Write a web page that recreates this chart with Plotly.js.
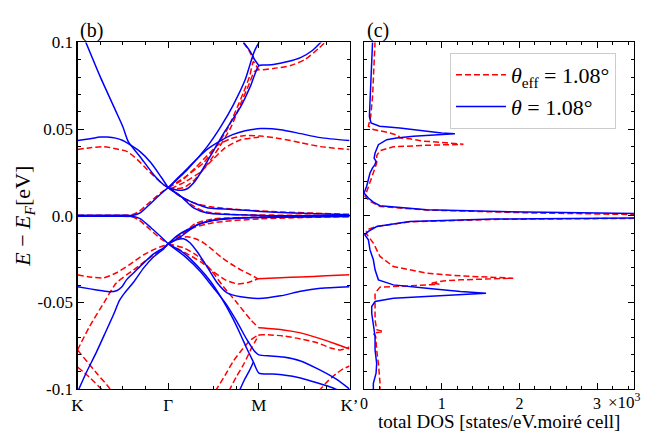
<!DOCTYPE html>
<html><head><meta charset="utf-8">
<script src="https://cdn.plot.ly/plotly-3.0.1.min.js"></script>
<style>html,body{margin:0;padding:0;background:#fff}#plot{width:648px;height:432px}</style>
</head><body><div id="plot"></div>
<script>
// ---- tick labels ----
const kTickVals = [0, 1, 2, 3];
const kTickText = ['K', 'Γ', 'M', 'K’'];
const eTickVals = [-0.1, -0.05, 0, 0.05, 0.1];
const eTickText = ['-0.1', '-0.05', '0.0', '0.05', '0.1'];
const dosTickVals = [0, 1, 2, 3];
const dosTickText = ['0', '1', '2', '3'];
const seriesNames = ['<i>θ</i><sub>eff</sub> = 1.08°', '<i>θ</i> = 1.08°'];

// ---- panel (b): blue (θ) bands, k along K-Γ-M-K' (0..3), E in eV ----
const bB1_k = [0.07,0.25,0.42,0.50,0.56,0.69,0.84,0.95,1.0];
const bB1_E = [0.1029,0.0803,0.0607,0.0514,0.0428,0.0341,0.0237,0.0179,0.0162];
const bB2_k = [0,0.14,0.25,0.33,0.42,0.50,0.56,0.69,0.81,0.92,1.0];
const bB2_E = [0.0434,0.0445,0.0454,0.0454,0.0448,0.0434,0.0416,0.0370,0.0306,0.0225,0.0162];
const bB3_k = [1.0,1.21,1.43,1.58,1.72,1.85,1.93,1.96,2.0,2.02];
const bB3_E = [0.0162,0.0266,0.0399,0.0514,0.0642,0.0786,0.0919,0.0960,0.1,0.1029];
const bB4_k = [1.0,1.08,1.15,1.21,1.30,1.39,1.50,1.63,1.80,1.91,2.0,2.07,2.16,2.32,2.46,2.59,2.68,2.71];
const bB4_E = [0.0162,0.0150,0.0147,0.0156,0.0202,0.0277,0.0376,0.0491,0.0630,0.0751,0.0867,0.0870,0.0873,0.0890,0.0913,0.0954,0.1,0.1017];
const bB5_k = [1.0,1.11,1.22,1.33,1.44,1.58,1.71,1.85,2.02,2.24,2.46,2.68,3.0];
const bB5_E = [0.0162,0.0220,0.0277,0.0335,0.0387,0.0434,0.0468,0.0491,0.0503,0.0497,0.0474,0.0451,0.0434];
const bB6_k = [1.83,1.89,1.93,1.96,2.0];
const bB6_E = [0.1,0.0960,0.0925,0.0896,0.0867];
const bF1_k = [0,0.47,0.62,0.69,0.81,0.92,1.0];
const bF1_E = [0.0003,0.0003,0.0003,0.0016,0.0073,0.0127,0.0162];
const bF2_k = [0,0.47,0.62,0.69,0.81,0.92,1.0];
const bF2_E = [-0.0003,-0.0003,-0.0004,-0.0017,-0.0069,-0.0121,-0.0162];
const bF3_k = [1.0,1.11,1.21,1.32,1.43,1.76,2.02,2.46,3.0];
const bF3_E = [0.0162,0.0121,0.0092,0.0066,0.0046,0.0035,0.0025,0.0014,0.0006];
const bF4_k = [1.0,1.14,1.28,1.43,2.02,3.0];
const bF4_E = [0.0162,0.0112,0.0045,0.0016,0.0002,0.0];
const bF5_k = [1.0,1.10,1.21,1.43,2.02,3.0];
const bF5_E = [-0.0162,-0.0115,-0.0081,-0.0033,-0.0008,-0.0002];
const bF6_k = [1.0,1.14,1.32,1.58,2.02,3.0];
const bF6_E = [-0.0162,-0.0120,-0.0052,-0.0019,-0.0010,-0.0004];
const bL1_k = [0.01,0.10,0.21,0.31,0.40,0.46,0.52,0.62,0.73,0.84,0.95,1.0];
const bL1_E = [-0.1006,-0.0902,-0.0786,-0.0671,-0.0567,-0.0491,-0.0445,-0.0382,-0.0301,-0.0237,-0.0191,-0.0162];
const bL2_k = [0,0.14,0.25,0.36,0.43,0.49,0.54,0.62,0.73,0.84,0.95,1.0];
const bL2_E = [-0.0410,-0.0422,-0.0431,-0.0439,-0.0433,-0.0410,-0.0370,-0.0329,-0.0272,-0.0220,-0.0185,-0.0162];
const bL3_k = [1.0,1.09,1.17,1.24,1.32,1.43,1.54,1.65,1.80,2.00,2.24,2.46,2.68,3.0];
const bL3_E = [-0.0162,-0.0139,-0.0133,-0.0156,-0.0208,-0.0295,-0.0387,-0.0445,-0.0468,-0.0477,-0.0462,-0.0436,-0.0419,-0.0410];
const bL4_k = [1.0,1.19,1.36,1.49,1.63,1.76,1.87,1.95,2.0,2.13,2.27,2.46,2.65,2.85,3.0];
const bL4_E = [-0.0162,-0.0237,-0.0324,-0.0410,-0.0503,-0.0613,-0.0717,-0.0780,-0.0803,-0.0809,-0.0815,-0.0838,-0.0884,-0.0942,-0.1];
const bL5_k = [1.0,1.17,1.32,1.47,1.60,1.71,1.80,1.87,1.94,2.0,2.13,2.27,2.46,2.65,2.82,2.87];
const bL5_E = [-0.0162,-0.0214,-0.0289,-0.0381,-0.0486,-0.0590,-0.0688,-0.0769,-0.0844,-0.0908,-0.0913,-0.0919,-0.0936,-0.0965,-0.0994,-0.1006];
const bL6_k = [1.78,1.84,1.90,1.94];
const bL6_E = [-0.1017,-0.0948,-0.0890,-0.0844];

// ---- panel (b): red (θ_eff) bands ----
const rU1_k = [0,0.14,0.29,0.42,0.55,0.66,0.77,0.86,0.95,1.0];
const rU1_E = [0.0382,0.0393,0.0399,0.0387,0.0370,0.0324,0.0266,0.0220,0.0179,0.0162];
const rU2_k = [1.0,1.19,1.39,1.52,1.65,1.76,1.83,1.90,1.94,1.97,2.0,2.16,2.35,2.51,2.66,2.74];
const rU2_E = [0.0162,0.0225,0.0306,0.0393,0.0497,0.0624,0.0711,0.0809,0.0890,0.0867,0.0844,0.0850,0.0867,0.0902,0.0966,0.1006];
const rU3_k = [1.0,1.09,1.17,1.27,1.36,1.47,1.56,1.69,1.80,1.89,1.95,2.0];
const rU3_E = [0.0162,0.0156,0.0162,0.0197,0.0249,0.0324,0.0393,0.0509,0.0647,0.0757,0.0832,0.0844];
const rU4_k = [1.83,1.89,1.94];
const rU4_E = [0.1,0.0954,0.0902];
const rU5_k = [1.0,1.16,1.30,1.43,1.54,1.69,1.83,2.02,2.24,2.46,2.68,3.0];
const rU5_E = [0.0162,0.0208,0.0277,0.0347,0.0405,0.0445,0.0462,0.0460,0.0445,0.0422,0.0399,0.0382];
const rU6_k = [1.03,1.19,1.36,1.49,1.63,1.80,1.96,2.04];
const rU6_E = [0.0156,0.0197,0.0254,0.0324,0.0393,0.0439,0.0451,0.0458];
const rF1_k = [0,0.47,0.60,0.68,0.79,0.91,1.0];
const rF1_E = [0.0003,0.0003,0.0006,0.0025,0.0075,0.0130,0.0162];
const rF2_k = [0,0.47,0.60,0.68,0.79,0.91,1.0];
const rF2_E = [-0.0003,-0.0003,-0.0006,-0.0025,-0.0075,-0.0130,-0.0162];
const rF3_k = [1.0,1.14,1.28,1.47,1.80,2.20,3.0];
const rF3_E = [0.0162,0.0110,0.0075,0.0052,0.0035,0.0023,0.0008];
const rF4_k = [1.0,1.12,1.25,1.40,1.70,3.0];
const rF4_E = [0.0162,0.0120,0.0065,0.0025,0.0008,0.0002];
const rF5_k = [1.0,1.14,1.30,1.50,2.0,3.0];
const rF5_E = [-0.0162,-0.0105,-0.0065,-0.0040,-0.0018,-0.0005];
const rF6_k = [1.0,1.15,1.30,1.50,2.0,3.0];
const rF6_E = [-0.0162,-0.0110,-0.0045,-0.0018,-0.0008,-0.0002];
const rL1_k = [0,0.13,0.29,0.43,0.57,0.73,0.86,0.95,1.0];
const rL1_E = [-0.0341,-0.0353,-0.0358,-0.0329,-0.0283,-0.0225,-0.0191,-0.0173,-0.0162];
const rL2_k = [0,0.13,0.29,0.43,0.62,0.81,0.92,1.0];
const rL2_E = [-0.0775,-0.0642,-0.0503,-0.0387,-0.0312,-0.0237,-0.0197,-0.0168];
const rL3_k = [0,0.21,0.35,0.37];
const rL3_E = [-0.0775,-0.0908,-0.0994,-0.1017];
const rL4_k = [0,0.13,0.24,0.29];
const rL4_E = [-0.0873,-0.0931,-0.0988,-0.1012];
const rL5_k = [1.0,1.10,1.21,1.30,1.39,1.49,1.58,1.69,1.80,1.91,1.99];
const rL5_E = [-0.0162,-0.0133,-0.0121,-0.0133,-0.0156,-0.0197,-0.0237,-0.0277,-0.0312,-0.0341,-0.0364];
const rL5s_k = [1.99,2.24,2.46,2.74,3.0];
const rL5s_E = [-0.0364,-0.0358,-0.0353,-0.0347,-0.0341];
const rL6_k = [1.0,1.19,1.36,1.50,1.63,1.76,1.87,1.99];
const rL6_E = [-0.0162,-0.0214,-0.0266,-0.0324,-0.0370,-0.0393,-0.0387,-0.0364];
const rL7_k = [1.0,1.17,1.32,1.47,1.61,1.76,1.91,2.0];
const rL7_E = [-0.0162,-0.0185,-0.0231,-0.0312,-0.0410,-0.0503,-0.0601,-0.0647];
const rL7s_k = [2.0,2.27,2.46,2.65,2.85,3.0];
const rL7s_E = [-0.0647,-0.0659,-0.0676,-0.0705,-0.0740,-0.0769];
const rL9_k = [1.52,1.63,1.72,1.82,1.91,2.0,2.13,2.27,2.46,2.65,2.79,2.90,3.0];
const rL9_E = [-0.1012,-0.0919,-0.0838,-0.0769,-0.0717,-0.0688,-0.0688,-0.0694,-0.0711,-0.0734,-0.0763,-0.0775,-0.0757];
const rL10_k = [1.67,1.75,1.84,1.92,2.0];
const rL10_E = [-0.1012,-0.0931,-0.0850,-0.0763,-0.0688];
const rL11_k = [2.66,2.74,2.85,2.93,3.0];
const rL11_E = [-0.1012,-0.0965,-0.0913,-0.0884,-0.0867];

// ---- panel (c): total DOS (x10^3 states/eV.moiré cell) ----
const dosBlue_E = [0.1006,0.0882,0.0786,0.069,0.0574,0.0536,0.0517,0.0507,0.0497,0.0487,0.0478,0.0474,0.0468,0.0459,0.0449,0.0439,0.041,0.0362,0.0333,0.0314,0.0295,0.0276,0.0247,0.0208,0.017,0.0131,0.0102,0.0079,0.0058,0.0035,0.0021,0.0013,0.0007,0.0002,-0.0004,-0.0013,-0.0019,-0.0033,-0.0062,-0.009,-0.011,-0.0139,-0.0197,-0.0254,-0.0312,-0.037,-0.0399,-0.0418,-0.0437,-0.0447,-0.046,-0.0476,-0.0495,-0.0524,-0.0563,-0.062,-0.0697,-0.0775,-0.0852,-0.0909,-0.0967,-0.1006];
const dosBlue = [0.11,0.099,0.09,0.077,0.069,0.09,0.20,0.46,0.65,0.81,1.0,1.17,0.95,0.635,0.42,0.292,0.185,0.142,0.13,0.155,0.14,0.11,0.077,0.056,0.034,0.0,0.056,0.12,0.206,0.807,2.09,3.48,7,10,7,3.48,1.67,0.59,0.163,0.056,0.01,0.056,0.077,0.12,0.142,0.185,0.378,0.807,1.24,1.57,1.02,0.378,0.142,0.099,0.099,0.12,0.142,0.142,0.163,0.155,0.12,0.12];
const dosRed_E = [0.1006,0.0882,0.069,0.0574,0.0517,0.0498,0.0478,0.0463,0.045,0.0444,0.0431,0.0421,0.0412,0.0407,0.0398,0.0376,0.0347,0.0304,0.0247,0.017,0.0112,0.0083,0.0054,0.0033,0.0017,0.0007,0.0,-0.0005,-0.001,-0.0015,-0.0021,-0.0035,-0.0062,-0.0081,-0.0104,-0.0158,-0.0235,-0.0293,-0.0331,-0.0347,-0.036,-0.037,-0.0376,-0.0389,-0.0395,-0.0405,-0.0412,-0.0447,-0.0524,-0.0601,-0.0658,-0.0668,-0.0678,-0.0697,-0.0775,-0.0852,-0.0967,-0.1006];
const dosRed = [0.142,0.129,0.11,0.086,0.056,0.12,0.335,0.44,0.46,0.59,0.76,1.06,1.28,0.81,0.378,0.206,0.163,0.163,0.12,0.056,0.013,0.077,0.206,0.8,2.09,3.48,7,10,7,3.48,1.67,0.59,0.163,0.034,0.03,0.12,0.206,0.378,0.807,1.24,1.92,1.24,1.02,0.87,0.97,0.59,0.206,0.142,0.142,0.142,0.163,0.25,0.12,0.15,0.163,0.185,0.206,0.206];

const RED = '#ff0000', BLUE = '#0000ff';
const DASH = '6px,3px';
const FONT = 'Liberation Serif, Times New Roman, serif';

const blueBands = [[bB1_k,bB1_E],[bB2_k,bB2_E],[bB3_k,bB3_E],[bB4_k,bB4_E],[bB5_k,bB5_E],[bB6_k,bB6_E],
  [bF1_k,bF1_E],[bF2_k,bF2_E],[bF3_k,bF3_E],[bF4_k,bF4_E],[bF5_k,bF5_E],[bF6_k,bF6_E],
  [bL1_k,bL1_E],[bL2_k,bL2_E],[bL3_k,bL3_E],[bL4_k,bL4_E],[bL5_k,bL5_E],[bL6_k,bL6_E]];
const redDashedBands = [[rU1_k,rU1_E],[rU2_k,rU2_E],[rU3_k,rU3_E],[rU4_k,rU4_E],[rU5_k,rU5_E],[rU6_k,rU6_E],
  [rF1_k,rF1_E],[rF2_k,rF2_E],[rF3_k,rF3_E],[rF4_k,rF4_E],[rF5_k,rF5_E],[rF6_k,rF6_E],
  [rL1_k,rL1_E],[rL2_k,rL2_E],[rL3_k,rL3_E],[rL4_k,rL4_E],[rL5_k,rL5_E],[rL6_k,rL6_E],[rL7_k,rL7_E],
  [rL9_k,rL9_E],[rL10_k,rL10_E],[rL11_k,rL11_E]];
const redSolidBands = [[rL5s_k,rL5s_E],[rL7s_k,rL7s_E]];

function band(k, E, color, dash) {
  return {type:'scatter', mode:'lines', x:k, y:E, xaxis:'x', yaxis:'y',
    line:{color:color, width:1.5, dash:dash, shape:'spline', smoothing:0.6},
    showlegend:false, hoverinfo:'skip'};
}

const traces = [];
traces.push({type:'scatter', mode:'lines', x:dosRed, y:dosRed_E, xaxis:'x2', yaxis:'y2',
  name:seriesNames[0], line:{color:RED, width:1.5, dash:DASH}, showlegend:true, hoverinfo:'skip'});
traces.push({type:'scatter', mode:'lines', x:dosBlue, y:dosBlue_E, xaxis:'x2', yaxis:'y2',
  name:seriesNames[1], line:{color:BLUE, width:1.5}, showlegend:true, hoverinfo:'skip'});
redDashedBands.forEach(b => traces.push(band(b[0], b[1], RED, DASH)));
redSolidBands.forEach(b => traces.push(band(b[0], b[1], RED, 'solid')));
blueBands.forEach(b => traces.push(band(b[0], b[1], BLUE, 'solid')));

function axisBase() {
  return {showline:true, linecolor:'black', linewidth:1.2, mirror:'allticks',
    ticks:'inside', ticklen:6, tickwidth:1, tickcolor:'black', zeroline:false, showgrid:false,
    automargin:false, tickfont:{size:17, family:FONT}};
}
// plot area: left 60px, right 10px, top 40px, bottom 40px
const yDomain = [0.0085, 0.9929];

const layout = {
  width:648, height:432, margin:{l:60, r:10, t:40, b:40},
  paper_bgcolor:'white', plot_bgcolor:'white',
  font:{family:FONT, size:17, color:'black'},
  showlegend:true,
  xaxis:Object.assign(axisBase(), {domain:[0.0303, 0.5009], range:[0, 3], anchor:'y',
    tickmode:'array', tickvals:kTickVals, ticktext:kTickText,
    minor:{tickmode:'linear', tick0:0, dtick:0.25, ticks:'inside', ticklen:3, tickcolor:'black', showgrid:false}}),
  yaxis:Object.assign(axisBase(), {domain:yDomain, range:[-0.1, 0.1], anchor:'x',
    tickmode:'array', tickvals:eTickVals, ticktext:eTickText,
    minor:{tickmode:'linear', tick0:0, dtick:0.01, ticks:'inside', ticklen:3, tickcolor:'black', showgrid:false},
    title:{text:'<i>E</i> − <i>E<sub>F</sub></i>[eV]', font:{size:22, family:FONT}, standoff:0}}),
  xaxis2:Object.assign(axisBase(), {domain:[0.5260, 0.9931], range:[0, 3.475], anchor:'y2',
    tickmode:'array', tickvals:dosTickVals, ticktext:dosTickText, tickfont:{size:16, family:FONT},
    minor:{tickmode:'linear', tick0:0, dtick:0.2, ticks:'inside', ticklen:3, tickcolor:'black', showgrid:false}}),
  yaxis2:Object.assign(axisBase(), {domain:yDomain, range:[-0.1, 0.1], anchor:'x2',
    tickmode:'array', tickvals:[-0.1, -0.05, 0, 0.05, 0.1], showticklabels:false,
    minor:{tickmode:'linear', tick0:0, dtick:0.01, ticks:'inside', ticklen:3, tickcolor:'black', showgrid:false}}),
  legend:{x:0.6747, y:0.963, xanchor:'left', yanchor:'top', bgcolor:'white',
    bordercolor:'#cccccc', borderwidth:1, font:{size:22, family:FONT}, traceorder:'normal',
    itemwidth:50, entrywidth:172, entrywidthmode:'pixels'},
  annotations:[
    {text:'(b)', xref:'paper', yref:'paper', x:0.0311, y:1.0284, xanchor:'left', yanchor:'middle', showarrow:false, font:{size:20}},
    {text:'(c)', xref:'paper', yref:'paper', x:0.5277, y:1.0284, xanchor:'left', yanchor:'middle', showarrow:false, font:{size:20}},
    {text:'×10<sup>3</sup>', xref:'paper', yref:'paper', x:0.9758, y:-0.0256, xanchor:'center', yanchor:'middle', showarrow:false, font:{size:17}},
    {text:'total DOS [states/eV.moiré cell]', xref:'paper', yref:'paper', x:0.7595, y:-0.0835, xanchor:'center', yanchor:'middle', showarrow:false, font:{size:19}}
  ]
};

Plotly.newPlot('plot', traces, layout, {staticPlot:true, displayModeBar:false});
</script>
</body></html>
